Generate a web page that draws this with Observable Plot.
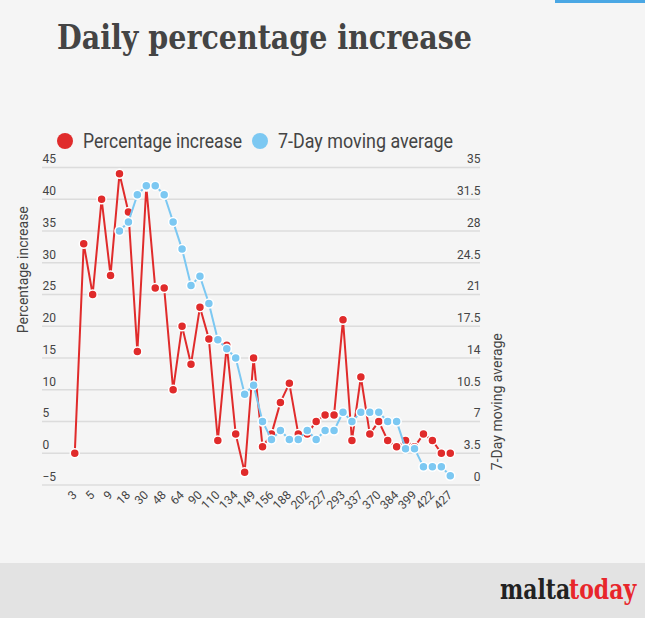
<!DOCTYPE html>
<html>
<head>
<meta charset="utf-8">
<script src="https://cdn.jsdelivr.net/npm/d3@7"></script>
<script src="https://cdn.jsdelivr.net/npm/@observablehq/plot@0.6"></script>
<style>
  html, body { margin: 0; padding: 0; background: #f5f5f5; width: 645px; height: 618px; overflow: hidden; font-family: Roboto, sans-serif; }
  #topline { position: absolute; left: 555px; top: 0; width: 90px; height: 3px; background: #4aa7e4; }
  #title { position: absolute; left: 0; top: 0; }
  #legend { position: absolute; left: 0; top: 120px; }
  #chart { position: absolute; left: 0; top: 150px; }
  #footer { position: absolute; left: 0; top: 563px; width: 645px; height: 55px; background: #e3e3e3; }
  #footer svg { position: absolute; left: 0; top: 0; }
</style>
</head>
<body>
<div id="topline"></div>
<svg id="title" width="645" height="70">
  <text x="57" y="49" font-family="'DejaVu Serif', serif" font-weight="bold" font-size="33" fill="#444" textLength="415" lengthAdjust="spacingAndGlyphs">Daily percentage increase</text>
</svg>
<svg id="legend" width="645" height="40">
  <circle cx="65" cy="21" r="8" fill="#e02b2b"></circle>
  <text x="83" y="27.5" font-family="Roboto, sans-serif" font-size="20" fill="#444" textLength="159" lengthAdjust="spacingAndGlyphs">Percentage increase</text>
  <circle cx="260" cy="21" r="8" fill="#7cc8f2"></circle>
  <text x="278" y="27.5" font-family="Roboto, sans-serif" font-size="20" fill="#444" textLength="175" lengthAdjust="spacingAndGlyphs">7-Day moving average</text>
</svg>
<div id="chart"></div>
<div id="footer">
  <svg width="645" height="55">
    <g transform="translate(500,36) scale(1,1.3)">
      <text x="0" y="0" font-family="'DejaVu Serif', serif" font-weight="bold" font-size="22" fill="#222">malta</text>
      <text x="69" y="0" font-family="'DejaVu Serif', serif" font-weight="bold" font-size="22" fill="#e8262b">today</text>
    </g>
  </svg>
</div>
<script>
// Tick labels shown on the x axis (every other category)
const xTickLabels = ["3","5","9","18","30","48","64","90","110","134","149","156","188","202","227","293","337","370","384","399","422","427"];
// Daily percentage increase (left axis)
const pctIncrease = [0,33,25,40,28,44,38,16,42,26,26,10,20,14,23,18,2,17,3,-3,15,1,3,8,11,3,3,5,6,6,21,2,12,3,5,2,1,2,1,3,2,0,0];
// 7-day moving average (right axis)
const movingAvg = [null,null,null,null,null,28,29,32,33,33,32,29,26,22,23,20,16,15,14,10,11,7,5,6,5,5,6,5,6,6,8,7,8,8,8,7,7,4,4,2,2,2,1];
// Axis ticks
const leftTicks = [-5,0,5,10,15,20,25,30,35,40,45];
const rightTicks = ["0","3.5","7","10.5","14","17.5","21","24.5","28","31.5","35"];
const rightMax = 35;

const red = "#e02b2b";
const blue = "#7cc8f2";

const yMin = leftTicks[0], yMax = leftTicks[leftTicks.length - 1];
const toLeft = v => yMin + v * (yMax - yMin) / rightMax;

const rows = pctIncrease.map((v, i) => ({i, pct: v, ma: movingAvg[i]}));
const maRows = rows.filter(d => d.ma != null);
const tickIdx = xTickLabels.map((_, k) => k * 2);

const chart = Plot.plot({
  width: 645,
  height: 413,
  marginLeft: 42,
  marginRight: 165,
  marginTop: 17,
  marginBottom: 78.6,
  style: {background: "transparent", fontFamily: "Roboto, sans-serif", color: "#444", overflow: "visible"},
  x: {type: "linear", domain: [-3.61, rows.length - 1 + 3.38]},
  y: {domain: [yMin, yMax]},
  marks: [
    Plot.ruleY(leftTicks, {stroke: "#dcdcdc", strokeWidth: 1.5}),
    Plot.axisY(leftTicks, {anchor: "left", tickSize: 0, tickPadding: 0, textAnchor: "start", dy: -8, label: null, fontSize: 12, fill: "#444"}),
    Plot.axisY(leftTicks, {anchor: "right", tickSize: 0, tickPadding: 0, textAnchor: "end", dy: -8, label: null, fontSize: 12, fill: "#444",
      tickFormat: d => rightTicks[leftTicks.indexOf(d)]}),
    Plot.axisX(tickIdx, {anchor: "bottom", tickSize: 0, tickPadding: 8, tickRotate: -45, label: null, fontSize: 12, fill: "#444",
      tickFormat: d => xTickLabels[d / 2]}),
    Plot.text(["Percentage increase"], {frameAnchor: "left", rotate: -90, dx: -19, dy: 7, fontSize: 14, fill: "#444"}),
    Plot.text(["7-Day moving average"], {frameAnchor: "right", rotate: -90, dx: 17, dy: 7, fontSize: 14, fill: "#444"}),
    Plot.line(rows, {x: "i", y: "pct", stroke: red, strokeWidth: 2}),
    Plot.dot(rows, {x: "i", y: "pct", r: 4.5, fill: red, stroke: "white", strokeWidth: 1.5}),
    Plot.line(maRows, {x: "i", y: d => toLeft(d.ma), stroke: blue, strokeWidth: 2}),
    Plot.dot(maRows, {x: "i", y: d => toLeft(d.ma), r: 4.5, fill: blue, stroke: "white", strokeWidth: 1.5})
  ]
});
document.getElementById("chart").appendChild(chart);
</script>
</body>
</html>
